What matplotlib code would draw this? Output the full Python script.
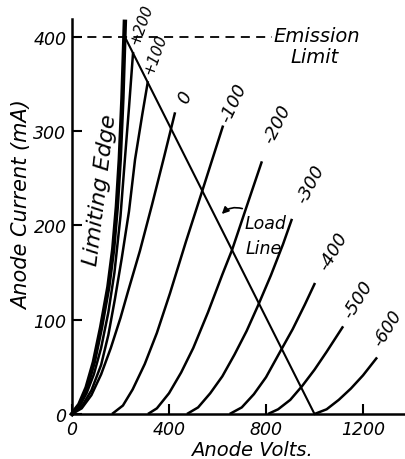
import matplotlib.pyplot as plt

# ==========================
# DATA
# ==========================

# limiting edge
v_edge = [0, 30, 60, 90, 120, 150, 170, 185, 197, 208, 218]
i_edge = [0, 10, 28, 55, 92, 135, 175, 220, 270, 335, 416]

# grid +200
v_g200 = [0, 30, 60, 90, 120, 150, 175, 200, 218, 235, 252]
i_g200 = [0, 8, 22, 42, 70, 108, 150, 210, 270, 325, 384]

# grid +100
v_g100 = [0, 40, 80, 120, 150, 177, 205, 235, 260, 290, 313]
i_g100 = [0, 8, 25, 52, 84, 122, 165, 215, 270, 318, 353]

# grid 0
v_g0 = [0, 40, 80, 120, 160, 200, 231, 280, 330, 380, 425]
i_g0 = [0, 6, 20, 42, 70, 102, 130, 173, 222, 273, 320]

# grid -100
v_m100 = [165, 210, 250, 300, 350, 404, 470, 540, 623]
i_m100 = [0, 9, 26, 53, 86, 128, 183, 239, 306]

# grid -200
v_m200 = [313, 350, 400, 450, 500, 561, 620, 660, 720, 783]
i_m200 = [0, 6, 22, 44, 70, 108, 148, 174, 220, 268]

# grid -300
v_m300 = [474, 520, 570, 620, 670, 720, 767, 820, 870, 907]
i_m300 = [0, 7, 22, 40, 63, 88, 115, 147, 180, 207]

# grid -400
v_m400 = [650, 700, 750, 800, 858, 910, 960, 1002]
i_m400 = [0, 7, 21, 39, 66, 90, 116, 139]

# grid -500
v_m500 = [808, 850, 900, 950, 1000, 1050, 1118]
i_m500 = [0, 5, 15, 30, 47, 66, 93]

# grid -600
v_m600 = [1000, 1050, 1100, 1150, 1200, 1258]
i_m600 = [0, 5, 15, 27, 41, 60]

# load line and emission limit
v_load = [218, 1000]
i_load = [400, 0]
v_emis = [0, 825]
i_emis = [400, 400]

x_ticks = [0, 400, 800, 1200]
y_ticks = [0, 100, 200, 300, 400]

# ==========================
# FIGURE
# ==========================

plt.rcParams["font.family"] = "DejaVu Sans"
plt.rcParams["font.style"] = "italic"

fig = plt.figure(figsize=(4.06, 4.60), dpi=100)
ax = fig.add_axes([72 / 406, 45 / 460, 332 / 406, 395 / 460])

curves = [
    (v_g200, i_g200), (v_g100, i_g100), (v_g0, i_g0),
    (v_m100, i_m100), (v_m200, i_m200), (v_m300, i_m300),
    (v_m400, i_m400), (v_m500, i_m500), (v_m600, i_m600),
]
for v, i in curves:
    ax.plot(v, i, color="black", lw=1.8, solid_capstyle="butt", clip_on=False)

ax.plot(v_edge, i_edge, color="black", lw=3.2, clip_on=False)
ax.plot(v_load, i_load, color="black", lw=1.5, clip_on=False)
ax.plot(v_emis, i_emis, color="black", lw=1.3, linestyle=(0, (5, 3.5)))

ax.set_xlim(0, 1369)
ax.set_ylim(0, 419)
ax.set_xticks(x_ticks)
ax.set_yticks(y_ticks)
ax.set_xticklabels([str(t) for t in x_ticks])
ax.set_yticklabels([str(t) for t in y_ticks])

ax.tick_params(direction="in", length=7, width=1.5, labelsize=12.5)
ax.tick_params(axis="x", pad=4)
ax.tick_params(axis="y", pad=4)

for s in ["top", "right"]:
    ax.spines[s].set_visible(False)
for s in ["left", "bottom"]:
    ax.spines[s].set_linewidth(1.8)

# axis titles
fig.text(22 / 406, 1 - 205 / 460, "Anode Current (mA)", rotation=90,
         ha="center", va="center", fontsize=15)
fig.text(252 / 406, 1 - 451 / 460, "Anode Volts.", ha="center",
         va="center", fontsize=14)

# curve labels
grid_labels = ["+200", "+100", "0", "-100", "-200", "-300", "-400", "-500", "-600"]
label_pos = [(285, 414), (342, 382), (466, 337), (664, 331), (845, 308),
             (981, 244), (1076, 173), (1180, 122), (1300, 92)]
label_rot = [70, 70, 65, 65, 63, 62, 60, 58, 58]
label_size = [11, 11, 13, 13, 13, 13, 13, 13, 12.5]
for txt, (x, y), r, fs in zip(grid_labels, label_pos, label_rot, label_size):
    ax.text(x, y, txt, rotation=r, rotation_mode="anchor", ha="center",
            va="center", fontsize=fs)

ax.text(115, 239, "Limiting Edge", rotation=83, rotation_mode="anchor",
        ha="center", va="center", fontsize=16)

ax.text(830, 401, "Emission", ha="left", va="center", fontsize=14)
ax.text(1002, 379, "Limit", ha="center", va="center", fontsize=14)

ax.text(796, 203, "Load", ha="center", va="center", fontsize=12.5)
ax.text(792, 176, "Line", ha="center", va="center", fontsize=12.5)
ax.annotate("", xy=(610, 210), xytext=(713, 217),
            arrowprops=dict(arrowstyle="-|>", color="black", lw=1.2,
                            connectionstyle="arc3,rad=0.35"))

fig.savefig("out.png", dpi=100)
